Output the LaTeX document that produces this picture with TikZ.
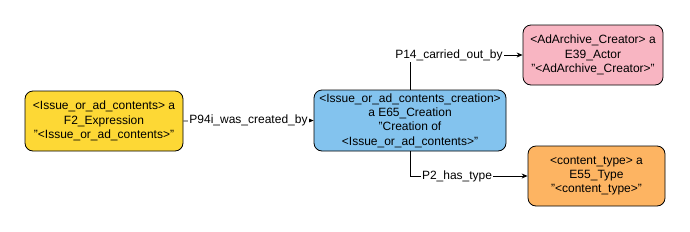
\documentclass[tikz,border=0pt]{standalone}
\usepackage{fontspec}
\setmainfont{Liberation Sans}
\usetikzlibrary{positioning, arrows.meta}

\definecolor{yellowfill}{HTML}{FDD835}
\definecolor{bluefill}{HTML}{83C3EE}
\definecolor{pinkfill}{HTML}{F8B5C2}
\definecolor{orangefill}{HTML}{FDB462}

\begin{document}
\begin{tikzpicture}[
    x=1pt, y=-1pt,
    box/.style={rectangle, draw, line width=0.8pt, rounded corners=8pt, align=center, inner sep=0pt,
                font=\fontsize{12}{14.3}\selectfont},
    edgelabel/.style={fill=white, inner sep=1pt, font=\fontsize{12}{13}\selectfont},
    arrow/.style={-{Stealth[length=6pt, width=5pt]}, line width=0.8pt}
]
    % page size
    \useasboundingbox (0,0) rectangle (690,231);

    % 1. Boxes
    \node[box, fill=yellowfill, minimum width=158pt, minimum height=60pt] (expression) at (104,121)
        {<Issue\_or\_ad\_contents> a\\ F2\_Expression\\ "<Issue\_or\_ad\_contents>"};
    \node[box, fill=bluefill, minimum width=192pt, minimum height=61pt] (creation) at (410,120.5)
        {<Issue\_or\_ad\_contents\_creation>\\ a E65\_Creation\\ "Creation of\\ <Issue\_or\_ad\_contents>"};
    \node[box, fill=pinkfill, minimum width=140pt, minimum height=60pt] (actor) at (593,55)
        {<AdArchive\_Creator> a\\ E39\_Actor\\ "<AdArchive\_Creator>"};
    \node[box, fill=orangefill, minimum width=137pt, minimum height=60pt] (contenttype) at (596.5,176)
        {<content\_type> a\\ E55\_Type\\ "<content\_type>"};

    % 2. Connectors
    \draw[arrow] (expression.east) -- node[edgelabel] {P94i\_was\_created\_by} (creation.west);
    \draw[arrow] (creation.north) |- node[edgelabel, pos=0.673] {P14\_carried\_out\_by} (actor.west);
    \draw[arrow] (creation.south) |- node[edgelabel, pos=0.7] {P2\_has\_type} (contenttype.west);

\end{tikzpicture}
\end{document}
